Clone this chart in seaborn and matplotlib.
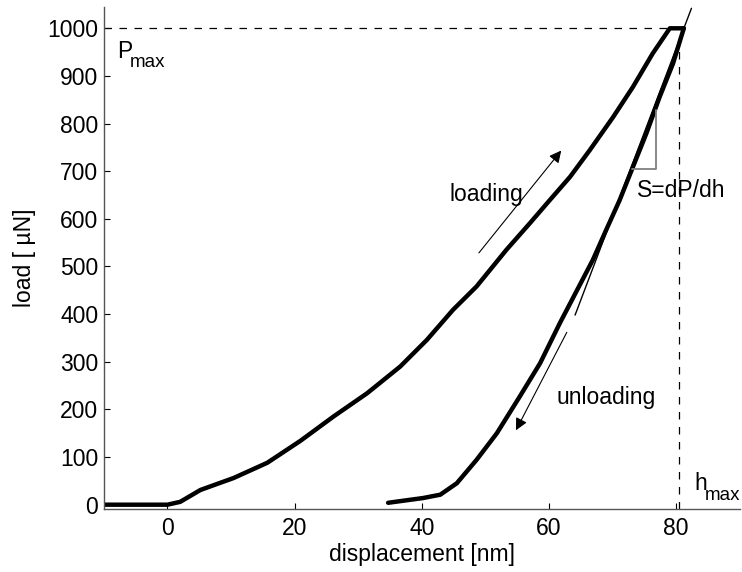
import numpy as np
import pandas as pd
import matplotlib
matplotlib.use("Agg")
import matplotlib.pyplot as plt
import seaborn as sns

# loading branch
load_x = [-10, -5, 0, 2, 5.2, 10.4, 15.7, 20.9, 26.1, 31.4, 36.6, 40.8, 44.9, 48.6,
          53.3, 57.0, 60.1, 63.3, 66.4, 70.1, 73.2, 76.3, 79.0, 81.2]
load_y = [0, 0, 0, 6, 31, 56, 88, 134, 185, 234, 290, 346, 409, 458,
          535, 591, 639, 688, 744, 814, 877, 947, 1000, 1000]

# unloading branch
unload_x = [81.2, 79.5, 77.4, 75.3, 73.2, 71.1, 69.0, 66.9, 61.7, 58.6, 55.4,
            51.8, 48.6, 45.5, 42.9, 40.2, 34.7]
unload_y = [1000, 926, 856, 779, 709, 639, 577, 514, 381, 297, 227,
            150, 94, 45, 21, 14, 4]

# tangent at start of unloading (stiffness)
tangent_x = [64.1, 82.4]
tangent_y = [398, 1042]

# small slope triangle
tri_x = [73.0, 76.8, 76.8]
tri_y = [704, 704, 828]

p_max = 1000
h_max = 80.5

sns.set_style("ticks")
plt.rcParams["font.family"] = ["Liberation Sans", "DejaVu Sans"]
plt.rcParams["font.size"] = 16.5
plt.rcParams["text.color"] = "black"
plt.rcParams["axes.labelcolor"] = "black"
plt.rcParams["xtick.color"] = "black"
plt.rcParams["ytick.color"] = "black"

fig = plt.figure(figsize=(7.42, 5.72), dpi=100)
ax = fig.add_axes([0.140, 0.111, 0.857, 0.877])

df_load = pd.DataFrame({"x": load_x, "y": load_y})
df_unload = pd.DataFrame({"x": unload_x, "y": unload_y})
sns.lineplot(data=df_load, x="x", y="y", sort=False, estimator=None,
             color="black", lw=3.2, ax=ax)
sns.lineplot(data=df_unload, x="x", y="y", sort=False, estimator=None,
             color="black", lw=3.2, ax=ax)
ax.plot(tangent_x, tangent_y, color="black", lw=1.0)
ax.plot(tri_x, tri_y, color="#808080", lw=1.3)

# dashed Pmax / hmax guides
ax.plot([-10, h_max], [p_max, p_max], color="black", lw=0.9, dashes=(6, 6))
ax.plot([h_max, h_max], [-8, p_max], color="black", lw=0.9, dashes=(6, 6))

# arrows
ax.annotate("", xy=(62.2, 748), xytext=(48.7, 524),
            arrowprops=dict(arrowstyle="-|>", color="black", lw=0.8,
                            mutation_scale=18))
ax.annotate("", xy=(54.6, 151), xytext=(63.0, 367),
            arrowprops=dict(arrowstyle="-|>", color="black", lw=0.8,
                            mutation_scale=18))

ax.text(44.3, 652, "loading", ha="left", va="center")
ax.text(61.2, 224, "unloading", ha="left", va="center")
ax.text(73.8, 660, "S=dP/dh", ha="left", va="center")

ax.text(-7.9, 937, "P", ha="left", va="baseline")
ax.annotate("max", xy=(-7.9, 937), xytext=(9.4, -6.5), textcoords="offset points",
            ha="left", va="baseline", fontsize=13.5)
ax.text(82.9, 31, "h", ha="left", va="baseline")
ax.annotate("max", xy=(82.9, 31), xytext=(7.2, -7.2), textcoords="offset points",
            ha="left", va="baseline", fontsize=13.5)

ax.set_xlim(-10, 90)
ax.set_ylim(-8, 1045)
ax.set_xticks([0, 20, 40, 60, 80])
ax.set_yticks(np.arange(0, 1001, 100))
ax.tick_params(direction="in", length=4, width=0.8, labelsize=16.5, pad=4)
ax.tick_params(axis="x", pad=6)
ax.set_xlabel("displacement [nm]", fontsize=16.5, labelpad=2)
ax.set_ylabel("load [ \u00b5N]", fontsize=16.5, labelpad=8)
sns.despine(ax=ax)
for s in ["left", "bottom"]:
    ax.spines[s].set_color("#555555")
    ax.spines[s].set_linewidth(1.0)

fig.savefig("out.png", dpi=100, facecolor="white")
